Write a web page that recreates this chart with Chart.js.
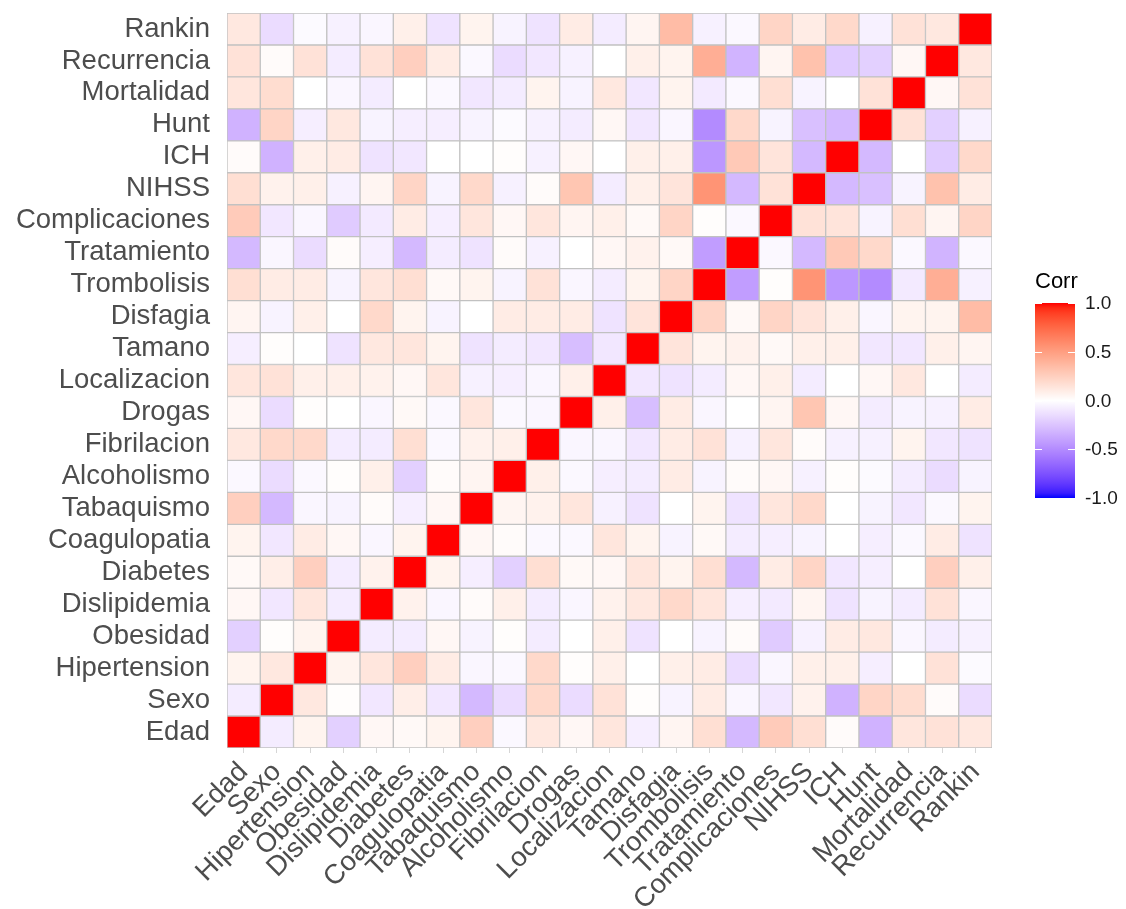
<!DOCTYPE html>
<html lang="es">
<head>
<meta charset="UTF-8">
<title>Correlaciones</title>
<script src="https://cdn.jsdelivr.net/npm/chart.js"></script>
<style>
    body { margin: 0; background: #fff; }
    #wrap { position: relative; width: 1126px; height: 909px; }
    #legend { position: absolute; left: 1035px; top: 268px; font-family: "Liberation Sans", Arial, sans-serif; color: #000; }
    #legend .title { font-size: 22px; height: 30px; }
    #bar { position: absolute; left: 0; top: 35px; width: 40px; height: 195px; }
    .tk { position: absolute; height: 1px; width: 7px; background: #fff; }
    .lbl { position: absolute; left: 50px; font-size: 19px; line-height: 20px; color: #1a1a1a; }
</style>
</head>
<body>
<div id="wrap">
    <canvas id="chart" width="1126" height="909"></canvas>
    <div id="legend">
        <div class="title">Corr</div>
        <div id="bar"></div>
    </div>
</div>

<script>
// variable order (bottom to top / left to right)
const names = ['Edad', 'Sexo', 'Hipertension', 'Obesidad', 'Dislipidemia', 'Diabetes',
    'Coagulopatia', 'Tabaquismo', 'Alcoholismo', 'Fibrilacion', 'Drogas', 'Localizacion',
    'Tamano', 'Disfagia', 'Trombolisis', 'Tratamiento', 'Complicaciones', 'NIHSS', 'ICH',
    'Hunt', 'Mortalidad', 'Recurrencia', 'Rankin'];

// lower triangle: correlation of each variable with the ones before it
const edad = [];
const sexo = [-0.08];
const hipertension = [0.06, 0.12];
const obesidad = [-0.2, 0.01, 0.06];
const dislipidemia = [0.04, -0.1, 0.13, -0.08];
const diabetes = [0.03, 0.09, 0.25, -0.08, 0.07];
const coagulopatia = [0.06, -0.1, 0.1, 0.04, -0.04, 0.06];
const tabaquismo = [0.25, -0.3, -0.04, -0.05, 0.02, -0.07, 0.04];
const alcoholismo = [-0.03, -0.15, -0.03, 0.01, 0.08, -0.2, 0.02, 0.05];
const fibrilacion = [0.12, 0.2, 0.2, -0.08, -0.08, 0.17, -0.03, 0.07, 0.08];
const drogas = [0.04, -0.15, 0.01, 0, -0.04, 0.03, -0.03, 0.13, -0.03, -0.04];
const localizacion = [0.13, 0.15, 0.08, 0.08, 0.07, 0.04, 0.13, -0.06, -0.07, -0.04, 0.08];
const tamano = [-0.07, 0.01, 0, -0.12, 0.12, 0.13, 0.06, -0.12, -0.08, -0.1, -0.28, -0.1];
const disfagia = [0.05, -0.05, 0.08, 0, 0.2, 0.06, -0.05, 0, 0.1, 0.1, 0.1, -0.12, 0.14];
const trombolisis = [0.17, 0.1, 0.1, -0.05, 0.13, 0.17, 0.03, 0.06, -0.05, 0.15, -0.04, -0.08, 0.06, 0.22];
const tratamiento = [-0.3, -0.04, -0.15, 0.02, -0.07, -0.3, -0.08, -0.12, 0.02, -0.06, 0, 0.04, 0.07, 0.03, -0.42];
const complicaciones = [0.27, -0.1, -0.04, -0.22, -0.09, 0.1, -0.07, 0.13, 0.04, 0.13, 0.05, 0.08, 0.03, 0.22, 0.01, -0.03];
const nihss = [0.17, 0.07, 0.08, -0.06, 0.05, 0.22, -0.05, 0.2, -0.06, 0.02, 0.3, -0.08, 0.08, 0.14, 0.55, -0.3, 0.15];
const ich = [0.02, -0.33, 0.08, 0.1, -0.12, -0.1, 0, 0, 0.01, -0.06, 0.04, 0, 0.08, 0.08, -0.45, 0.28, 0.14, -0.3];
const hunt = [-0.33, 0.22, -0.07, 0.12, -0.05, -0.07, -0.07, -0.05, -0.02, -0.06, -0.08, 0.04, -0.1, -0.04, -0.5, 0.2, -0.05, -0.27, -0.3];
const mortalidad = [0.13, 0.18, 0, -0.04, -0.08, 0, -0.03, -0.1, -0.08, 0.06, -0.05, 0.12, -0.1, 0.06, -0.09, -0.03, 0.17, -0.05, 0, 0.15];
const recurrencia = [0.15, 0.02, 0.15, -0.08, 0.15, 0.25, 0.1, -0.03, -0.15, -0.1, -0.06, 0, 0.08, 0.06, 0.42, -0.32, 0.05, 0.32, -0.22, -0.2, 0.04];
const rankin = [0.12, -0.15, -0.02, -0.06, -0.04, 0.08, -0.12, 0.06, -0.05, -0.12, 0.1, -0.08, 0.05, 0.35, -0.06, -0.03, 0.22, 0.1, 0.2, -0.06, 0.15, 0.12];

const legendBreaks = [1.0, 0.5, 0.0, -0.5, -1.0];

const lower = [edad, sexo, hipertension, obesidad, dislipidemia, diabetes, coagulopatia,
    tabaquismo, alcoholismo, fibrilacion, drogas, localizacion, tamano, disfagia, trombolisis,
    tratamiento, complicaciones, nihss, ich, hunt, mortalidad, recurrencia, rankin];

// full symmetric matrix
const corr = names.map((_, i) => names.map((_, j) => {
    if (i === j) return 1;
    return i > j ? lower[i][j] : lower[j][i];
}));

// blue - white - red gradient, interpolated in Lab like ggplot
function toLin(c) { c /= 255; return c <= 0.04045 ? c / 12.92 : Math.pow((c + 0.055) / 1.055, 2.4); }
function fromLin(c) {
    c = c <= 0.0031308 ? 12.92 * c : 1.055 * Math.pow(c, 1 / 2.4) - 0.055;
    return Math.round(Math.max(0, Math.min(1, c)) * 255);
}
function rgbToLab(rgb) {
    const r = toLin(rgb[0]), g = toLin(rgb[1]), b = toLin(rgb[2]);
    const x = (0.4124 * r + 0.3576 * g + 0.1805 * b) / 0.95047;
    const y = 0.2126 * r + 0.7152 * g + 0.0722 * b;
    const z = (0.0193 * r + 0.1192 * g + 0.9505 * b) / 1.08883;
    const f = t => t > 0.008856 ? Math.cbrt(t) : 7.787 * t + 16 / 116;
    return [116 * f(y) - 16, 500 * (f(x) - f(y)), 200 * (f(y) - f(z))];
}
function labToRgb(lab) {
    const fy = (lab[0] + 16) / 116, fx = fy + lab[1] / 500, fz = fy - lab[2] / 200;
    const inv = t => t * t * t > 0.008856 ? t * t * t : (t - 16 / 116) / 7.787;
    const x = inv(fx) * 0.95047, y = inv(fy), z = inv(fz) * 1.08883;
    return [
        fromLin(3.2406 * x - 1.5372 * y - 0.4986 * z),
        fromLin(-0.9689 * x + 1.8758 * y + 0.0415 * z),
        fromLin(0.0557 * x - 0.2040 * y + 1.0570 * z)
    ];
}
const labLow = rgbToLab([0, 0, 255]), labMid = rgbToLab([255, 255, 255]), labHigh = rgbToLab([255, 0, 0]);
function colorFor(v) {
    const end = v >= 0 ? labHigh : labLow;
    const t = Math.min(1, Math.abs(v));
    const lab = [0, 1, 2].map(k => labMid[k] + (end[k] - labMid[k]) * t);
    const c = labToRgb(lab);
    return `rgb(${c[0]}, ${c[1]}, ${c[2]})`;
}

const datasets = names.map((rowName, i) => ({
    label: rowName,
    data: names.map(() => [i, i + 1]),
    backgroundColor: names.map((_, j) => colorFor(corr[i][j])),
    borderColor: '#c2c2c2',
    borderWidth: 1,
    borderSkipped: false,
    grouped: false,
    barPercentage: 1,
    categoryPercentage: 1
}));

const axisFont = { family: '"Liberation Sans", Arial, sans-serif', size: 27.5 };

new Chart(document.getElementById('chart'), {
    type: 'bar',
    data: { labels: names, datasets: datasets },
    options: {
        responsive: false,
        animation: false,
        layout: { padding: { top: 13, right: 134, bottom: 0, left: 0 } },
        plugins: {
            legend: { display: false },
            tooltip: { enabled: false }
        },
        scales: {
            x: {
                type: 'category',
                grid: { display: true, drawOnChartArea: false, offset: false, tickLength: 5, color: '#d6d6d6' },
                border: { display: false },
                ticks: {
                    autoSkip: false,
                    minRotation: 45,
                    maxRotation: 45,
                    padding: 3,
                    color: '#4d4d4d',
                    font: axisFont
                },
                afterFit: function (axis) {
                    axis.height = 161;
                    axis.paddingLeft = 0;
                    axis.paddingRight = 0;
                }
            },
            y: {
                type: 'linear',
                min: 0,
                max: names.length,
                grid: { display: false, drawTicks: false },
                border: { display: false },
                afterBuildTicks: function (axis) {
                    axis.ticks = names.map((n, i) => ({ value: i + 0.5 }));
                },
                ticks: {
                    autoSkip: false,
                    padding: 17,
                    color: '#4d4d4d',
                    font: axisFont,
                    callback: function (value) { return names[Math.round(value - 0.5)]; }
                },
                afterFit: function (axis) {
                    axis.width = 227;
                    axis.paddingTop = 0;
                    axis.paddingBottom = 0;
                }
            }
        }
    }
});

// colour bar legend
const bar = document.getElementById('bar');
const stops = [];
for (let k = 0; k <= 40; k++) {
    const v = 1 - k / 20;
    stops.push(colorFor(v) + ' ' + (k / 40 * 100).toFixed(1) + '%');
}
bar.style.background = 'linear-gradient(to bottom, ' + stops.join(', ') + ')';
const legend = document.getElementById('legend');
legendBreaks.forEach(v => {
    const y = 35 + (1 - v) / 2 * 195;
    [0, 33].forEach(x => {
        const tk = document.createElement('div');
        tk.className = 'tk';
        tk.style.left = x + 'px';
        tk.style.top = Math.round(y) + 'px';
        legend.appendChild(tk);
    });
    const lbl = document.createElement('div');
    lbl.className = 'lbl';
    lbl.style.top = (y - 10) + 'px';
    lbl.textContent = v.toFixed(1);
    legend.appendChild(lbl);
});
</script>
</body>
</html>
